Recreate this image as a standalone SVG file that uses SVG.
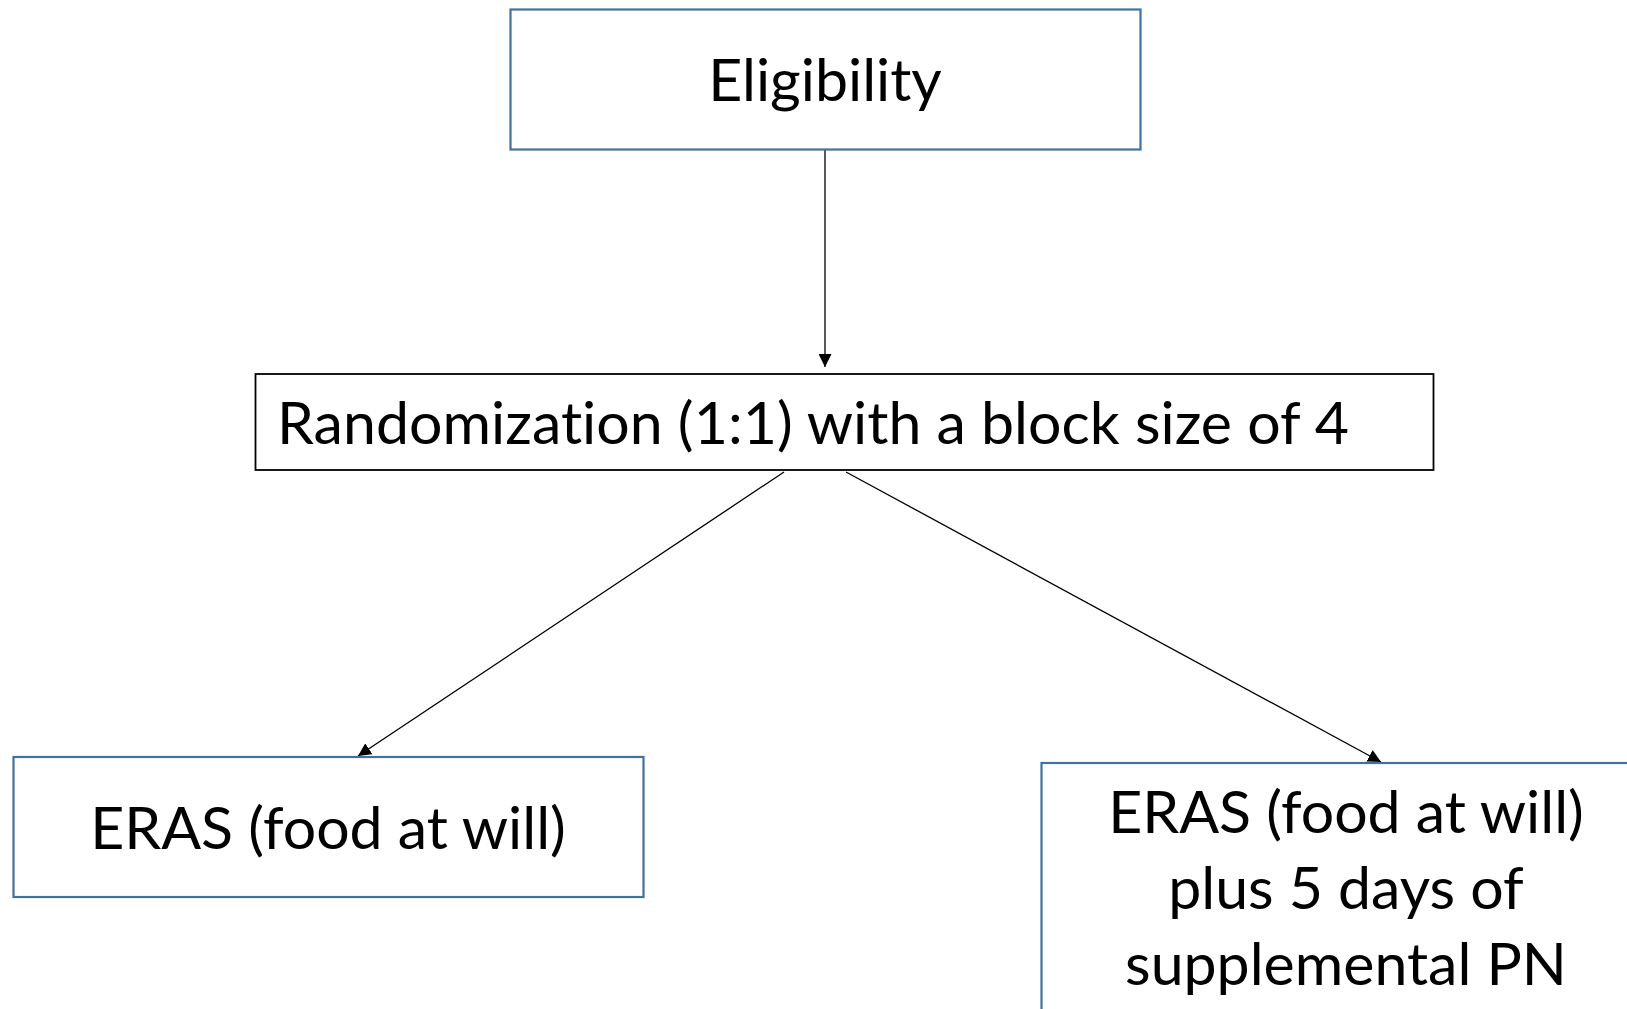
<svg xmlns="http://www.w3.org/2000/svg" width="1627" height="1009" viewBox="0 0 1627 1009">
<style>
.box{fill:#fff;stroke:#41719c;stroke-width:2.2}
.boxk{fill:#fff;stroke:#000;stroke-width:1.8}
.t{font-family:Lato,"Liberation Sans",sans-serif;font-size:59px;fill:#000;font-variant-ligatures:none}
.c{stroke:#000;stroke-width:1.3;fill:none}
</style>
<defs>
<marker id="ah" viewBox="0 0 10 10" refX="10" refY="5" markerWidth="13" markerHeight="13" markerUnits="userSpaceOnUse" orient="auto">
<path d="M0,0 L10,5 L0,10 z" fill="#000"/>
</marker>
</defs>
<rect width="1627" height="1009" fill="#fff"/>
<g id="connectors">
<line class="c" x1="825" y1="150" x2="825" y2="367" marker-end="url(#ah)"/>
<line class="c" x1="784" y1="472" x2="358" y2="756" marker-end="url(#ah)"/>
<line class="c" x1="846" y1="472" x2="1381" y2="762" marker-end="url(#ah)"/>
</g>
<g id="eligibility">
<rect class="box" x="510.5" y="9.5" width="630" height="140"/>
<text class="t" x="825" y="101" text-anchor="middle">Eligibility</text>
</g>
<g id="randomization">
<rect class="boxk" x="255.5" y="374" width="1178" height="96"/>
<text class="t" x="277" y="444" textLength="1072">Randomization (1:1) with a block size of 4</text>
</g>
<g id="eras">
<rect class="box" x="13.5" y="757" width="630" height="140"/>
<text class="t" x="328" y="849" text-anchor="middle">ERAS (food at will)</text>
</g>
<g id="eras-pn">
<rect class="box" x="1041.5" y="763" width="600" height="260"/>
<text class="t" x="1346" y="833" text-anchor="middle">ERAS (food at will)</text>
<text class="t" x="1346" y="909" text-anchor="middle">plus 5 days of</text>
<text class="t" x="1346" y="985" text-anchor="middle">supplemental PN</text>
</g>
</svg>
